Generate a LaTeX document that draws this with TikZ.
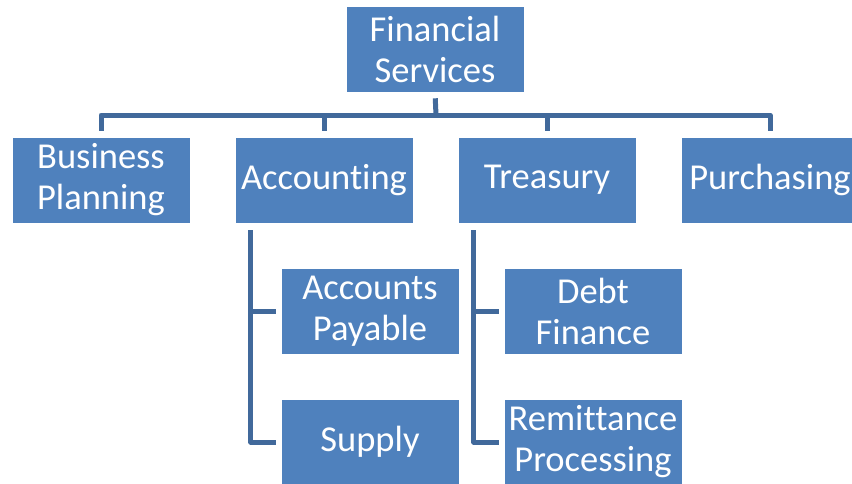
\documentclass[tikz,border=0pt]{standalone}
\usepackage{fontspec}
\setmainfont{Carlito}[Ligatures=NoCommon]
\usepackage{xcolor}
\usepackage{tikz}
\usetikzlibrary{calc}
\definecolor{boxBlue}{HTML}{4F81BD}
\definecolor{linkBlue}{HTML}{41699B}

\begin{document}
\begin{tikzpicture}[x=1pt,y=-1pt,
  unit/.style={rectangle,fill=boxBlue,draw=white,line width=0.6pt,text=white,
    minimum width=178pt,minimum height=86pt,inner sep=0pt,align=center,
    font=\fontsize{36.5}{41}\selectfont},
  link/.style={linkBlue,line width=5pt,line join=round}]
\clip (0,0) rectangle (852,483);
% top level
\node[unit] (fs) at (435,49) {Financial\\Services};
\coordinate (bus) at (436,115);
% departments
\node[unit] (bp) at (101,180) {Business\\Planning};
\node[unit] (ac) at (324,180) {Accounting};
\node[unit] (tr) at (547,180) {Treasury};
\node[unit] (pu) at (770,180) {Purchasing};
\draw[link,shorten <=6pt] (fs.south) -- (bus);
\draw[link,shorten <=6pt,shorten >=6pt] (bp.north) |- (bus) -| (pu.north);
\draw[link,shorten >=6pt] (ac.north |- bus) -- (ac.north);
\draw[link,shorten >=6pt] (tr.north |- bus) -- (tr.north);
% accounting units
\node[unit] (ap) at (370,311) {Accounts\\Payable};
\node[unit] (su) at (370,442) {Supply};
\coordinate (acs) at ($(ac.south west)+(16,7)$);
\draw[link,shorten >=5pt] (acs) |- (su.west);
\draw[link,shorten >=5pt] (acs |- ap.west) -- (ap.west);
% treasury units
\node[unit] (df) at (593,311) {Debt\\Finance};
\node[unit] (rp) at (593,442) {Remittance\\Processing};
\coordinate (trs) at ($(tr.south west)+(16,7)$);
\draw[link,shorten >=5pt] (trs) |- (rp.west);
\draw[link,shorten >=5pt] (trs |- df.west) -- (df.west);
\end{tikzpicture}
\end{document}
